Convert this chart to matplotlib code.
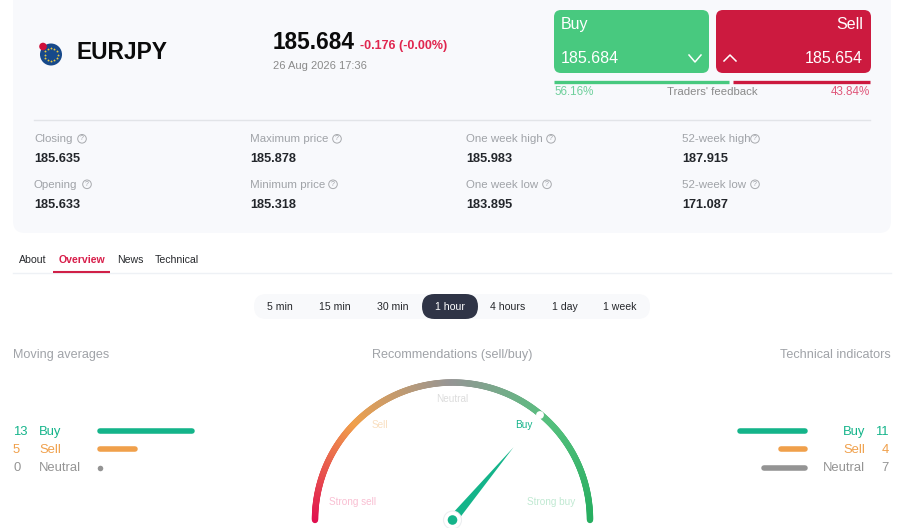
import numpy as np
import matplotlib
matplotlib.use("Agg")
import matplotlib.pyplot as plt
from matplotlib.patches import FancyBboxPatch, Circle, Polygon
from matplotlib.collections import LineCollection
from matplotlib.colors import LinearSegmentedColormap

plt.rcParams['font.family'] = ['Liberation Sans', 'DejaVu Sans']

symbol = "EURJPY"
price = "185.684"
change = "-0.176 (-0.00%)"
stamp = "26 Aug 2026 17:36"
buy_price = "185.684"
sell_price = "185.654"
buy_share = 56.16
sell_share = 43.84
stat_labels = [["Closing", "Opening"], ["Maximum price", "Minimum price"],
               ["One week high", "One week low"], ["52-week high", "52-week low"]]
stat_values = [["185.635", "185.633"], ["185.878", "185.318"],
               ["185.983", "183.895"], ["187.915", "171.087"]]
tabs = ["About", "Overview", "News", "Technical"]
periods = ["5 min", "15 min", "30 min", "1 hour", "4 hours", "1 day", "1 week"]
signal_names = ["Buy", "Sell", "Neutral"]
moving_avg = [13, 5, 0]
tech_ind = [11, 4, 7]
gauge_labels = ["Strong sell", "Sell", "Neutral", "Buy", "Strong buy"]
needle_deg = 50

GREEN, ORANGE, GREY = "#14b48a", "#f0a04b", "#949494"
sig_col = [GREEN, ORANGE, GREY]
CARD = "#f8f9fc"
CRIMSON = "#cc1a3f"

fig = plt.figure(figsize=(9, 5.28), dpi=100, facecolor="white")
ax = fig.add_axes([0, 0, 1, 1])
ax.set_xlim(0, 900)
ax.set_ylim(528, 0)
ax.axis("off")


def px(s):
    return s * 0.72


def T(x, y, s, size, color="#222222", ha="left", weight="normal", **kw):
    return ax.text(x, y + 0.8, s, fontsize=px(size), color=color, ha=ha, va="center",
                   fontweight=weight, **kw)


def rbox(x0, y0, x1, y1, r, color, z=1):
    ax.add_patch(FancyBboxPatch((x0 + r, y0 + r), x1 - x0 - 2 * r, y1 - y0 - 2 * r,
                                boxstyle=f"round,pad={r},rounding_size={r}",
                                fc=color, ec="none", zorder=z))


# card
rbox(13, -20, 891, 233, 12, CARD, 0)

# flag
ax.add_patch(Circle((51, 54.5), 11, fc="#17498a", ec="none", zorder=2))
ax.add_patch(Circle((43, 46.5), 3.8, fc="#d0103a", ec="none", zorder=3))
a = np.linspace(0, 2 * np.pi, 12, endpoint=False)
ax.scatter(51 + 6.5 * np.cos(a), 54.5 + 6.5 * np.sin(a), s=1.6, c="#e8c840", marker="*", lw=0.3, zorder=3)

T(76.5, 52, symbol, 22.8, "#0b0b0b", weight="bold")
T(273, 42, price, 22.6, "#0b0b0b", weight="bold")
T(360, 45.5, change, 12.5, "#e0264f", weight="bold")
T(273, 65, stamp, 11.1, "#8a8a8a")

# trade buttons
rbox(554, 10, 709, 73, 7, "#48c97f", 1)
rbox(716, 10, 871, 73, 7, CRIMSON, 1)
T(561, 24, "Buy", 16, "white")
T(863, 24, "Sell", 16, "white", ha="right")
T(561, 58, buy_price, 16, "white")
T(863, 58, sell_price, 16, "white", ha="right")
ax.plot([689, 695, 701], [55, 62, 55], color="white", lw=1.1, zorder=3)
ax.plot([724, 730, 736], [61, 55, 61], color="white", lw=1.1, zorder=3)

# feedback bar
bar0, bar1 = 554, 870
split = bar0 + (bar1 - bar0) * buy_share / (buy_share + sell_share)
ax.plot([bar0, split - 2], [81.5, 81.5], color="#48c97f", lw=2.4, solid_capstyle="butt")
ax.plot([split + 2, bar1], [81.5, 81.5], color=CRIMSON, lw=2.4, solid_capstyle="butt")
T(554, 91.5, f"{buy_share:.2f}%", 11.6, "#6fd09c")
T(712.5, 91.5, "Traders' feedback", 11.4, "#8a8a8a", ha="center")
T(870, 91.5, f"{sell_share:.2f}%", 11.6, "#e0577a", ha="right")
ax.plot([34, 870], [119.5, 119.5], color="#e2e4e8", lw=1)

# stats
col_x = [34, 250, 466, 682]
row_y = [(138.5, 158), (184, 204.5)]
icon_dx = [[48, 53], [87, 83], [85, 81], [73, 73]]
for c, x in enumerate(col_x):
    for r, (yl, yv) in enumerate(row_y):
        T(x, yl, stat_labels[c][r], 11.5, "#a0a3a8")
        T(x, yv, stat_values[c][r], 12.8, "#23262b", weight="bold")
        cx = x + icon_dx[c][r]
        ax.add_patch(Circle((cx, yl + 0.3), 4.3, fc="none", ec="#a8aaae", lw=0.7))
        T(cx, yl - 0.4, "?", 7, "#a0a3a8", ha="center")

# tabs
tab_x = [33, 81.5, 130, 177]
for i, (s, x) in enumerate(zip(tabs, tab_x)):
    if i == 1:
        T(x, 259, s, 10.5, "#d81e4a", ha="center", weight="bold")
    else:
        T(x, 259, s, 10.5, "#26282c", ha="center")
ax.plot([13, 891], [272.5, 272.5], color="#eef1f5", lw=1)
ax.plot([53, 110], [271.5, 271.5], color="#d02047", lw=1.5, solid_capstyle="butt")

# period selector
rbox(254, 294, 650, 319, 12.5, "#f8f9fb", 1)
rbox(422, 294, 478, 319, 12.5, "#2f3446", 2)
per_x = [280, 335, 393, 450, 508, 565, 620]
for i, (s, x) in enumerate(zip(periods, per_x)):
    T(x, 306, s, 10.5, "white" if i == 3 else "#26282c", ha="center", zorder=3)

# headings
T(13, 354, "Moving averages", 12.6, "#a0a3a8")
T(452.5, 354, "Recommendations (sell/buy)", 12.6, "#a0a3a8", ha="center")
T(891, 354, "Technical indicators", 12.6, "#a0a3a8", ha="right")

# left bars
ys = [431, 449, 467.5]
for n, v, y, c in zip(signal_names, moving_avg, ys, sig_col):
    T(13, y, str(v), 13, c)
    T(39, y, n, 13, c)
lax = fig.add_axes([100 / 900, 1 - 480 / 528, 92 / 900, 60 / 528])
lax.set_xlim(0, max(moving_avg))
lax.set_ylim(480, 420)
lax.axis("off")
for v, y, c in zip(moving_avg, ys, sig_col):
    if v:
        lax.plot([0, v], [y, y], color=c, lw=4, solid_capstyle="round", clip_on=False)
    else:
        lax.plot([0], [y], "o", color=c, ms=4, mew=0, clip_on=False)

# right bars
for n, v, y, c in zip(signal_names, tech_ind, ys, sig_col):
    T(865, y, n, 13, c, ha="right")
    T(889, y, str(v), 13, c, ha="right")
rax = fig.add_axes([740 / 900, 1 - 480 / 528, 65 / 900, 60 / 528])
rax.set_xlim(max(tech_ind), 0)
rax.set_ylim(480, 420)
rax.axis("off")
for v, y, c in zip(tech_ind, ys, sig_col):
    rax.plot([0, v], [y, y], color=c, lw=4, solid_capstyle="round", clip_on=False)

# gauge
cx, cy, R = 452.5, 520, 137.5
cmap = LinearSegmentedColormap.from_list("g", [(0, "#e0104f"), (0.25, "#f0a04b"), (0.5, "#959595"),
                                               (0.75, "#56c07e"), (1, "#27ae60")])
th = np.linspace(np.pi, 0, 361)
xs, ys_a = cx + R * np.cos(th), cy - R * np.sin(th)
pts = np.column_stack([xs, ys_a]).reshape(-1, 1, 2)
segs = np.concatenate([pts[:-1], pts[1:]], axis=1)
ax.add_collection(LineCollection(segs, colors=cmap(np.linspace(0, 1, 360)), linewidths=4.6, capstyle="round", zorder=2))
ax.add_patch(Circle((540, 415), 3.9, fc="white", ec="none", zorder=3))

lab_pos = [(352.5, 501), (380, 424), (452, 398.5), (523.5, 424), (551, 501)]
lab_col = ["#f9bfd2", "#f9dfc0", "#dcdcdc", "#14b48a", "#c0e9d2"]
for s, (x, y), c in zip(gauge_labels, lab_pos, lab_col):
    T(x, y, s, 10, c, ha="center", zorder=3)

L = 95
a = np.deg2rad(needle_deg)
u = np.array([np.cos(a), -np.sin(a)])
n = np.array([u[1], -u[0]])
hub = np.array([cx, cy])
ax.add_patch(Polygon([hub + n * 4.5, hub - n * 4.5, hub + u * L], closed=True, fc=GREEN, ec="none", zorder=4))
ax.add_patch(Circle(hub, 9, fc="white", ec="#eceef0", lw=0.8, zorder=5))
ax.add_patch(Circle(hub, 4.8, fc=GREEN, ec="none", zorder=6))

fig.savefig("out.png", dpi=100, facecolor="white")
